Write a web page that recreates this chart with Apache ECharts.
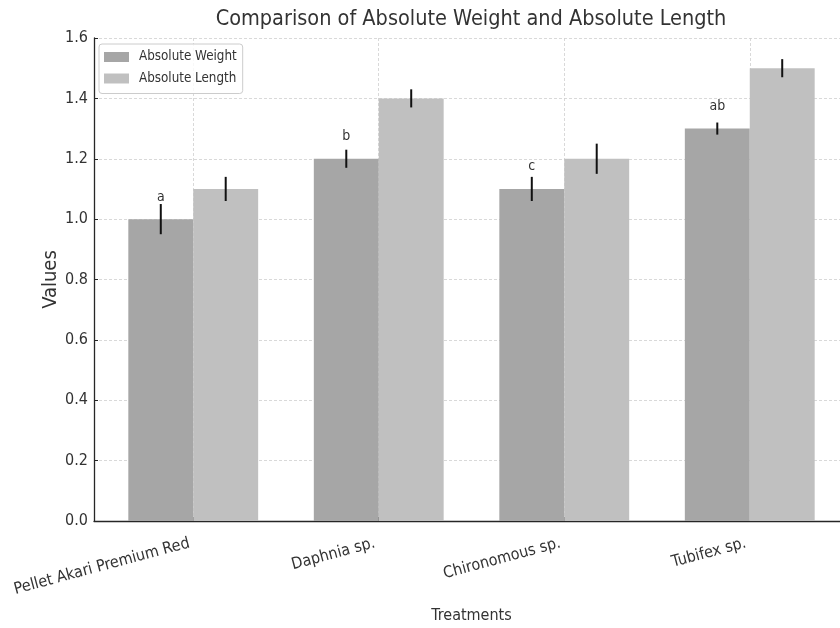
<!DOCTYPE html>
<html>
<head>
<meta charset="utf-8">
<script src="https://cdn.jsdelivr.net/npm/echarts@6/dist/echarts.min.js"></script>
<style>
html,body{margin:0;padding:0;background:#ffffff;}
#chart{width:840px;height:628px;}
</style>
</head>
<body>
<div id="chart"></div>
<script>
// ---- data ----
const categories = ['Pellet Akari Premium Red', 'Daphnia sp.', 'Chironomous sp.', 'Tubifex sp.'];
const weightValues = [1.0, 1.2, 1.1, 1.3];
const weightErrors = [0.05, 0.03, 0.04, 0.02];
const lengthValues = [1.1, 1.4, 1.2, 1.5];
const lengthErrors = [0.04, 0.03, 0.05, 0.03];
const significanceLetters = ['a', 'b', 'c', 'ab'];
const categoryTicks = [0, 1, 2, 3];
const seriesNames = ['Absolute Weight', 'Absolute Length'];

// ---- style constants ----
const FONT = '"DejaVu Sans Condensed", "DejaVu Sans", sans-serif';
const BAR_W = 0.35;
const COLORS = ['#a6a6a6', '#c0c0c0'];
const TEXT = '#333333';
const SPINE = '#262626';
const GRID = '#cfcfcf';

function rows(values, errors) {
  return values.map((v, i) => [i, v, errors[i]]);
}

function barRenderer(offset) {
  return function (params, api) {
    const c = api.value(0), v = api.value(1);
    const p0 = api.coord([c + offset - BAR_W / 2, v]);
    const p1 = api.coord([c + offset + BAR_W / 2, 0]);
    return {
      type: 'rect',
      shape: { x: p0[0], y: p0[1], width: p1[0] - p0[0], height: p1[1] - p0[1] },
      style: { fill: api.visual('color') }
    };
  };
}

function errRenderer(offset, withLetters) {
  return function (params, api) {
    const c = api.value(0), v = api.value(1), e = api.value(2);
    const lo = api.coord([c + offset, v - e]);
    const hi = api.coord([c + offset, v + e]);
    const children = [{
      type: 'line',
      shape: { x1: lo[0], y1: lo[1], x2: hi[0], y2: hi[1] },
      style: { stroke: '#111111', lineWidth: 2 }
    }];
    if (withLetters) {
      const t = api.coord([c + offset, v + 0.05]);
      children.push({
        type: 'text',
        x: t[0], y: t[1],
        style: {
          text: significanceLetters[params.dataIndex],
          fill: TEXT, font: '14px ' + FONT,
          align: 'center', verticalAlign: 'bottom'
        }
      });
    }
    return { type: 'group', children: children };
  };
}

const chart = echarts.init(document.getElementById('chart'), null, { renderer: 'canvas' });

chart.setOption({
  animation: false,
  backgroundColor: '#ffffff',
  textStyle: { fontFamily: FONT },
  title: {
    text: 'Comparison of Absolute Weight and Absolute Length',
    left: 471,
    top: 8,
    padding: 0,
    textAlign: 'center',
    textStyle: { fontFamily: FONT, fontSize: 21.5, fontWeight: 'normal', color: TEXT }
  },
  legend: {
    orient: 'vertical',
    left: 99,
    top: 44,
    itemWidth: 25,
    itemHeight: 10,
    itemGap: 8.5,
    padding: [6.5, 6, 8.5, 5],
    backgroundColor: 'rgba(255,255,255,0.8)',
    borderColor: '#cccccc',
    borderWidth: 1,
    borderRadius: 3,
    textStyle: { fontFamily: FONT, fontSize: 13.3, color: TEXT, padding: [0, 0, 0, 5] },
    data: seriesNames.map(n => ({ name: n, icon: 'rect' }))
  },
  grid: { left: 94, right: -9, top: 38, bottom: 107, containLabel: false, outerBoundsMode: 'none' },
  xAxis: {
    type: 'value',
    min: -0.535,
    max: 3.535,
    name: 'Treatments',
    nameLocation: 'middle',
    nameGap: 87,
    nameMoveOverlap: false,
    nameTextStyle: { fontFamily: FONT, fontSize: 16, color: TEXT },
    axisLine: { show: true, onZero: false, lineStyle: { color: SPINE, width: 1.3 } },
    axisTick: { show: true, inside: true, length: 4, customValues: categoryTicks, lineStyle: { color: SPINE, width: 1 } },
    axisLabel: {
      customValues: categoryTicks,
      formatter: v => categories[Math.round(v)],
      rotate: 15,
      margin: 21,
      padding: [0, 4, 0, 0],
      fontFamily: FONT, fontSize: 16, color: TEXT
    },
    splitLine: { show: true, lineStyle: { color: GRID, width: 0.8, type: [3, 2] } }
  },
  yAxis: {
    type: 'value',
    min: 0,
    max: 1.6,
    interval: 0.2,
    name: 'Values',
    nameLocation: 'middle',
    nameGap: 33,
    nameMoveOverlap: false,
    nameTextStyle: { fontFamily: FONT, fontSize: 20, color: TEXT },
    axisLine: { show: true, onZero: false, lineStyle: { color: SPINE, width: 1.3 } },
    axisTick: { show: true, inside: true, length: 4, lineStyle: { color: SPINE, width: 1 } },
    axisLabel: {
      formatter: v => v.toFixed(1),
      margin: 6,
      fontFamily: FONT, fontSize: 16, color: TEXT
    },
    splitLine: { show: true, lineStyle: { color: GRID, width: 0.8, type: [3, 2] } }
  },
  series: [
    {
      name: seriesNames[0], type: 'custom', clip: true,
      itemStyle: { color: COLORS[0] },
      renderItem: barRenderer(-BAR_W / 2),
      encode: { x: 0, y: 1 },
      data: rows(weightValues, weightErrors),
      z: 2
    },
    {
      name: seriesNames[1], type: 'custom', clip: true,
      itemStyle: { color: COLORS[1] },
      renderItem: barRenderer(BAR_W / 2),
      encode: { x: 0, y: 1 },
      data: rows(lengthValues, lengthErrors),
      z: 2
    },
    {
      name: 'weight-error', type: 'custom', silent: true,
      renderItem: errRenderer(-BAR_W / 2, true),
      encode: { x: 0, y: 1 },
      data: rows(weightValues, weightErrors),
      z: 3
    },
    {
      name: 'length-error', type: 'custom', silent: true,
      renderItem: errRenderer(BAR_W / 2, false),
      encode: { x: 0, y: 1 },
      data: rows(lengthValues, lengthErrors),
      z: 3
    }
  ]
});
</script>
</body>
</html>
